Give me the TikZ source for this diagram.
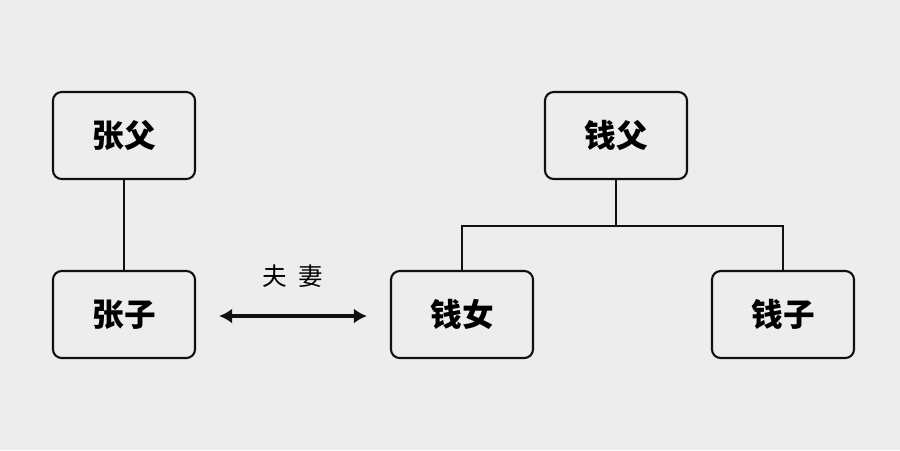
\documentclass[tikz,border=0pt]{standalone}
\usepackage{fontspec}
\newfontfamily\cjk{Noto Sans CJK SC}
\usetikzlibrary{arrows.meta,positioning}
\definecolor{paperbg}{HTML}{EDEDED}
\definecolor{inkline}{HTML}{111111}
\tikzset{
  personbox/.style={draw=inkline, rounded corners=2.5pt, line width=0.6pt,
    minimum width=14.2mm, minimum height=8.7mm, inner sep=0pt,
    font=\cjk\bfseries\fontsize{9}{10}\selectfont},
  familyline/.style={draw=inkline, line width=0.6pt},
  marriagearrow/.style={{Latex[length=1.3mm,width=1.5mm]}-{Latex[length=1.3mm,width=1.5mm]},
    draw=inkline, line width=0.9pt}
}

\begin{document}
\begin{tikzpicture}[x=0.01cm, y=-0.01cm]
  \fill[paperbg] (0,0) rectangle (900,450);
  \node[personbox] (zhangfu) at (124,135.5) {张父};
  \node[personbox] (zhangzi) at (124,314.5) {张子};
  \node[personbox] (qianfu) at (616,135.5) {钱父};
  \node[personbox] (qiannv) at (462,314.5) {钱女};
  \node[personbox] (qianzi) at (783,314.5) {钱子};
  \coordinate (branch) at (616,226);
  \draw[familyline] (zhangfu) -- (zhangzi);
  \draw[familyline] (qianfu) -- (branch);
  \draw[familyline] (qiannv.north) |- (branch) -| (qianzi.north);
  \draw[marriagearrow] ([xshift=2.3mm,yshift=-0.15mm]zhangzi.east) -- ([xshift=-2.3mm,yshift=-0.15mm]qiannv.west)
    node[midway, above=1.5mm, font=\cjk\fontsize{7}{8}\selectfont] (fuqi) {夫\hspace{1.1mm}妻};
\end{tikzpicture}
\end{document}
